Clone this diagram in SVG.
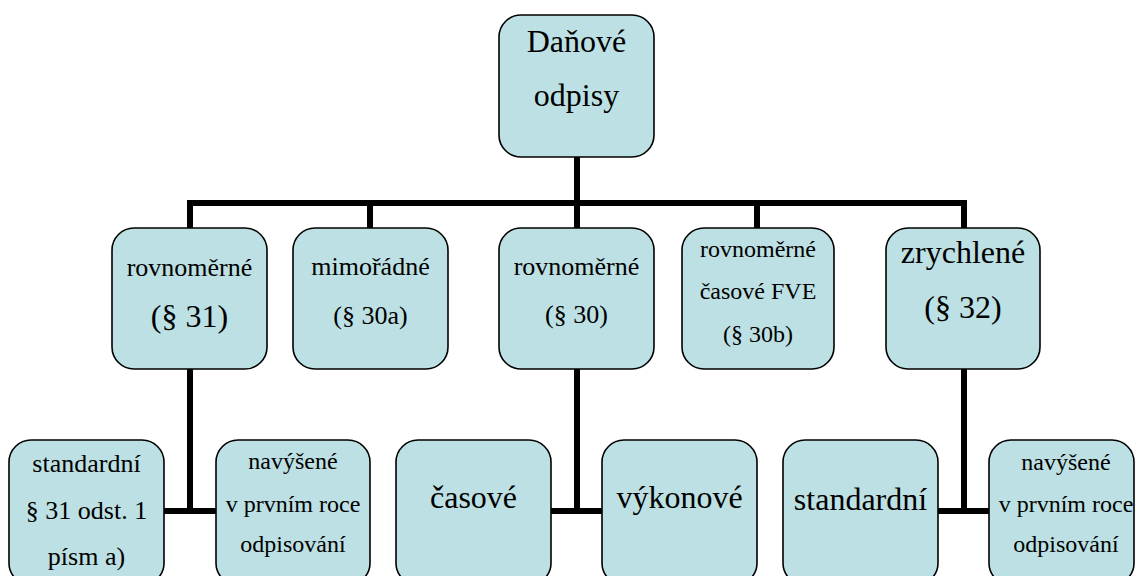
<svg xmlns="http://www.w3.org/2000/svg" width="1136" height="576" viewBox="0 0 1136 576">
<style>
.box{fill:#bce0e3;stroke:#000;stroke-width:1.6}
.t{fill:#000;text-anchor:middle}
.s24{font-size:24px}.s26{font-size:26px}.s32{font-size:32px}
.c{stroke:#000;stroke-width:6;fill:none;stroke-linecap:butt}
</style>
<rect width="1136" height="576" fill="#fff"/>
<g id="connectors">
<path class="c" d="M577,157V228M190,203H964M190,200V228M370,200V228M757,200V228M964,200V228"/>
<path class="c" d="M190,369V514M164,511H216"/>
<path class="c" d="M577,369V514M551,511H602"/>
<path class="c" d="M964,369V514M938,511H989"/>
</g>
<g id="root">
<rect class="box" x="499" y="15" width="155" height="142" rx="22"/>
<text class="t s32" font-family="Liberation Serif, serif" x="576.5" y="52">Daňové</text>
<text class="t s32" font-family="Liberation Serif, serif" x="576.5" y="106">odpisy</text>
</g>
<g id="n1">
<rect class="box" x="112" y="228" width="155" height="141" rx="22"/>
<text class="t s26" font-family="Liberation Serif, serif" x="189.5" y="276">rovnoměrné</text>
<text class="t s32" font-family="Liberation Serif, serif" x="189.5" y="327">(§ 31)</text>
</g>
<g id="n2">
<rect class="box" x="293" y="228" width="155" height="141" rx="22"/>
<text class="t s26" font-family="Liberation Serif, serif" x="370.5" y="275">mimořádné</text>
<text class="t s26" font-family="Liberation Serif, serif" x="370.5" y="324">(§ 30a)</text>
</g>
<g id="n3">
<rect class="box" x="499" y="228" width="155" height="141" rx="22"/>
<text class="t s26" font-family="Liberation Serif, serif" x="576.5" y="275">rovnoměrné</text>
<text class="t s26" font-family="Liberation Serif, serif" x="576.5" y="323">(§ 30)</text>
</g>
<g id="n4">
<rect class="box" x="682" y="228" width="152" height="141" rx="22"/>
<text class="t s24" font-family="Liberation Serif, serif" x="758" y="257">rovnoměrné</text>
<text class="t s24" font-family="Liberation Serif, serif" x="758" y="299">časové FVE</text>
<text class="t s24" font-family="Liberation Serif, serif" x="758" y="342">(§ 30b)</text>
</g>
<g id="n5">
<rect class="box" x="886" y="228" width="154" height="141" rx="22"/>
<text class="t s32" font-family="Liberation Serif, serif" x="963" y="263">zrychlené</text>
<text class="t s32" font-family="Liberation Serif, serif" x="963" y="318">(§ 32)</text>
</g>
<g id="n1a">
<rect class="box" x="9" y="440" width="155" height="145" rx="22"/>
<text class="t s26" font-family="Liberation Serif, serif" x="86.5" y="472">standardní</text>
<text class="t s26" font-family="Liberation Serif, serif" x="86.5" y="519">§ 31 odst. 1</text>
<text class="t s26" font-family="Liberation Serif, serif" x="86.5" y="565">písm a)</text>
</g>
<g id="n1b">
<rect class="box" x="216" y="440" width="154" height="145" rx="22"/>
<text class="t s24" font-family="Liberation Serif, serif" x="293" y="469">navýšené</text>
<text class="t s24" font-family="Liberation Serif, serif" x="293" y="512">v prvním roce</text>
<text class="t s24" font-family="Liberation Serif, serif" x="293" y="552">odpisování</text>
</g>
<g id="n3a">
<rect class="box" x="396" y="440" width="155" height="145" rx="22"/>
<text class="t s32" font-family="Liberation Serif, serif" x="473.5" y="508">časové</text>
</g>
<g id="n3b">
<rect class="box" x="602" y="440" width="155" height="145" rx="22"/>
<text class="t s32" font-family="Liberation Serif, serif" x="679.5" y="508">výkonové</text>
</g>
<g id="n5a">
<rect class="box" x="783" y="440" width="155" height="145" rx="22"/>
<text class="t s32" font-family="Liberation Serif, serif" x="860.5" y="510">standardní</text>
</g>
<g id="n5b">
<rect class="box" x="989" y="440" width="145" height="145" rx="22"/>
<text class="t s24" font-family="Liberation Serif, serif" x="1066" y="470">navýšené</text>
<text class="t s24" font-family="Liberation Serif, serif" x="1066" y="512">v prvním roce</text>
<text class="t s24" font-family="Liberation Serif, serif" x="1066" y="552">odpisování</text>
</g>
</svg>
